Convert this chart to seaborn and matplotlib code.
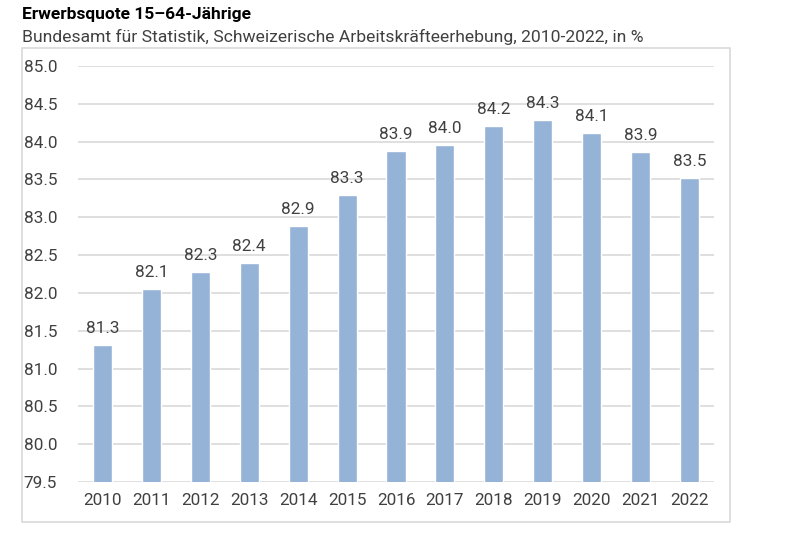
import matplotlib
matplotlib.use("Agg")
import matplotlib.pyplot as plt
import seaborn as sns
import pandas as pd
from matplotlib.patches import Rectangle

years = ["2010", "2011", "2012", "2013", "2014", "2015", "2016",
         "2017", "2018", "2019", "2020", "2021", "2022"]
values = [81.31, 82.05, 82.28, 82.39, 82.88, 83.29, 83.87,
          83.95, 84.21, 84.29, 84.11, 83.86, 83.52]
labels = ["81.3", "82.1", "82.3", "82.4", "82.9", "83.3", "83.9",
          "84.0", "84.2", "84.3", "84.1", "83.9", "83.5"]
yticks = [79.5, 80.0, 80.5, 81.0, 81.5, 82.0, 82.5, 83.0, 83.5, 84.0, 84.5, 85.0]

title = "Erwerbsquote 15–64-Jährige"
subtitle = "Bundesamt für Statistik, Schweizerische Arbeitskräfteerhebung, 2010-2022, in %"

sns.set_theme(style="white")
plt.rcParams['font.family'] = ['Roboto', 'DejaVu Sans']

df = pd.DataFrame({"year": years, "value": values})

fig = plt.figure(figsize=(8.04, 5.46), dpi=100)
fig.patch.set_facecolor("white")
ax = fig.add_axes([78/804, 1-482/546, (714-78)/804, (482-66)/546])

# outer frame
fig.patches.append(Rectangle((22/804, 1-522/546), (730-22)/804, (522-48)/546,
                             transform=fig.transFigure, fill=False,
                             edgecolor="#d9d9d9", linewidth=1.2, zorder=0))

sns.barplot(data=df, x="year", y="value", color="#95b3d7", saturation=1,
            width=0.39, ax=ax, zorder=3)

fs = 12.3
ax.set_ylim(79.5, 85.0)
ax.set_xlim(-0.5, len(years) - 0.5)
ax.set_yticks(yticks)
ax.set_yticklabels([f"{t:.1f}" for t in yticks])
ax.yaxis.grid(True, color="#d9d9d9", linewidth=1.2, zorder=0)
ax.set_axisbelow(True)
for s in ax.spines.values():
    s.set_visible(False)
ax.set_xlabel("")
ax.set_ylabel("")
ax.tick_params(axis="y", length=0, pad=15, labelsize=fs, labelcolor="#404040")
ax.tick_params(axis="x", length=0, pad=8, labelsize=fs, labelcolor="#404040")

for i, (v, lab) in enumerate(zip(values, labels)):
    ax.annotate(lab, (i, v), xytext=(0, 6.5), textcoords="offset points",
                ha="center", va="bottom", fontsize=fs, color="#404040")

fig.text(22/804, 1-14/546, title, fontsize=12.5, fontweight="bold",
         color="black", va="center", ha="left")
fig.text(22/804, 1-37/546, subtitle, fontsize=12.6, color="#404040",
         va="center", ha="left")

fig.savefig("out.png", dpi=100)
